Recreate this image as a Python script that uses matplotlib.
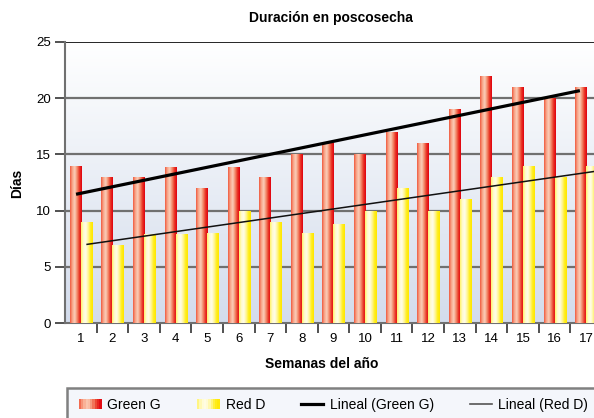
import numpy as np
import matplotlib
matplotlib.use("Agg")
import matplotlib.pyplot as plt
from matplotlib.colors import LinearSegmentedColormap
from matplotlib.patches import Rectangle
from matplotlib.lines import Line2D
from matplotlib.legend_handler import HandlerBase

plt.rcParams['font.family'] = ['Liberation Sans', 'DejaVu Sans']

semanas = np.arange(1, 18)
green_g = [14, 13, 13, 13.9, 12, 13.9, 13, 15, 16, 15, 17, 16, 19, 22, 21, 20, 21]
red_d = [9, 6.9, 7.9, 7.9, 8, 10, 9, 8, 8.8, 10, 12, 10, 11, 13, 14, 13, 14]

red_cmap = LinearSegmentedColormap.from_list(
    "rojo", ["#f05a40", "#f8a88c", "#fbcdb8", "#f38a6a", "#ea3424", "#e0000f"])
yel_cmap = LinearSegmentedColormap.from_list(
    "amar", ["#fff36a", "#fffbd0", "#fffde8", "#fff69a", "#ffee20", "#ffe600"])

fig = plt.figure(figsize=(5.94, 4.18), dpi=100)
ax = fig.add_axes([65 / 594, 95 / 418, 537 / 594, 281 / 418])

# fondo degradado
bg = np.linspace(0, 1, 256).reshape(-1, 1)
bg_cmap = LinearSegmentedColormap.from_list("bg", ["#ffffff", "#d3dcec"])
ax.imshow(bg, cmap=bg_cmap, extent=[0, 1, 0, 1], transform=ax.transAxes,
          aspect='auto', zorder=0, origin='upper')

ax.set_xlim(0.5, 17.5)
ax.set_ylim(0, 25)

grad = np.linspace(0, 1, 64).reshape(1, -1)
w = 0.35


def gradient_bars(xs, vals, cmap):
    bars = ax.bar(xs, vals, width=w, color='none', edgecolor='none', zorder=3)
    for b in bars:
        x0, y0 = b.get_x(), b.get_y()
        im = ax.imshow(grad, cmap=cmap, aspect='auto', zorder=3,
                       extent=[x0, x0 + b.get_width(), y0, y0 + b.get_height()])
        im.set_clip_path(b)
    return bars


gradient_bars(semanas - w / 2, green_g, red_cmap)
gradient_bars(semanas + w / 2, red_d, yel_cmap)

# lineas de tendencia
pg = np.polyfit(semanas, green_g, 1)
pr = np.polyfit(semanas, red_d, 1)
xg = np.array([0.85, 16.8])
xr = np.array([1.2, 17.6])
ax.plot(xg, np.polyval(pg, xg), color='black', lw=2.3, zorder=5, solid_capstyle='butt')
ax.plot(xr, np.polyval(pr, xr), color='#111111', lw=1.1, zorder=5)
ax.set_xlim(0.5, 17.5)

for yv in [5, 10, 15, 20]:
    ax.axhline(yv, color='#707070', lw=1.6, zorder=1)
ax.axhline(25, color='black', lw=1.2, zorder=1)

for s in ['top', 'right']:
    ax.spines[s].set_visible(False)
ax.spines['left'].set_color('#707070')
ax.spines['left'].set_linewidth(1.5)
ax.spines['bottom'].set_color('#707070')
ax.spines['bottom'].set_linewidth(1.5)

ax.set_yticks([0, 5, 10, 15, 20, 25])
ax.set_xticks(semanas)
ax.set_xticks(np.arange(1.5, 17.5, 1), minor=True)
ax.tick_params(axis='x', which='major', length=0, pad=7, labelsize=9.5)
ax.tick_params(axis='x', which='minor', length=7, width=1.2, color='#333333')
ax.tick_params(axis='y', length=7, width=1.2, color='#333333', labelsize=9.5, pad=3)

fig.text(331 / 594, 1 - 18 / 418, "Duración en poscosecha", ha='center', va='center',
         fontsize=10, fontweight='bold')
fig.text(17 / 594, 1 - 183 / 418, "Días", ha='center', va='center', rotation=90,
         fontsize=10, fontweight='bold')
fig.text(322 / 594, 1 - 364 / 418, "Semanas del año", ha='center', va='center',
         fontsize=10, fontweight='bold')

# caja de la leyenda (sigue mas alla del borde derecho)
fig.patches.append(Rectangle((67 / 594, -0.1), 0.95, (418 - 388) / 418 + 0.1,
                             transform=fig.transFigure, facecolor='#f4f6fb',
                             edgecolor='#808080', linewidth=1.8, zorder=0))


class GradHandler(HandlerBase):
    def __init__(self, cmap):
        super().__init__()
        self.cmap = cmap

    def create_artists(self, legend, orig, xd, yd, width, height, fontsize, trans):
        n = 10
        arts = []
        for i in range(n):
            r = Rectangle((xd + width * i / n, yd), width / n + 0.3, height,
                          facecolor=self.cmap((i + 0.5) / n), edgecolor='none',
                          transform=trans)
            arts.append(r)
        return arts


h_g = Rectangle((0, 0), 1, 1)
h_r = Rectangle((0, 0), 1, 1)
l_g = Line2D([], [], color='black', lw=2.3)
l_r = Line2D([], [], color='#555555', lw=1.2)
leg = fig.legend([h_g, h_r, l_g, l_r],
                 ["Green G", "Red D", "Lineal (Green G)", "Lineal (Red D)"],
                 handler_map={h_g: GradHandler(red_cmap), h_r: GradHandler(yel_cmap)},
                 ncol=4, loc='center left', bbox_to_anchor=(79 / 594, 1 - 405 / 418),
                 borderaxespad=0, borderpad=0, fontsize=10, frameon=False,
                 handlelength=1.6, handleheight=0.7,
                 columnspacing=2.6, handletextpad=0.45)

fig.savefig("out.png", dpi=100)
